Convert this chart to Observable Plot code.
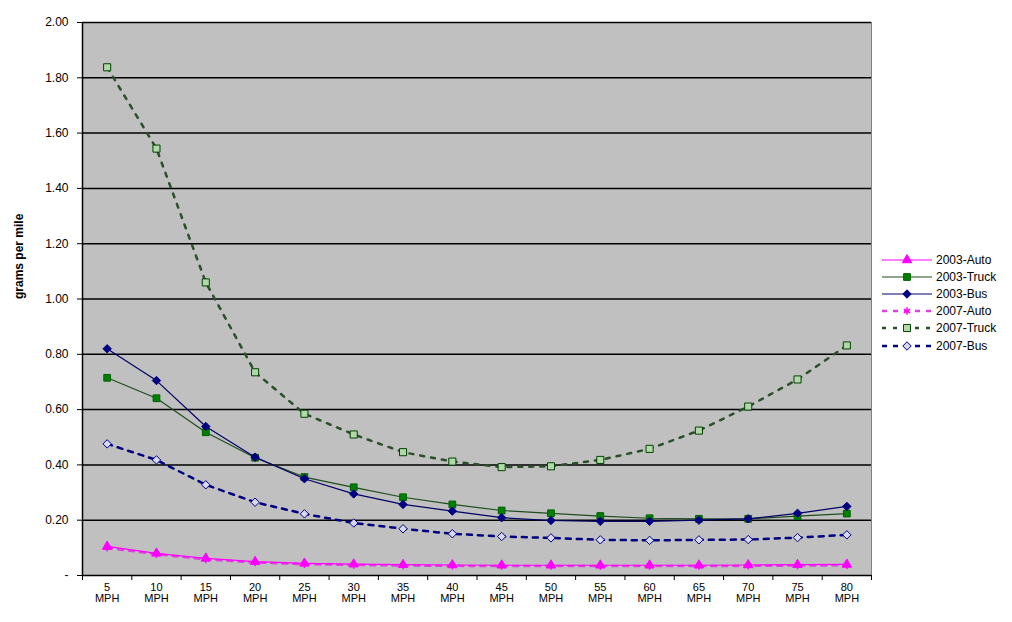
<!DOCTYPE html>
<html><head><meta charset="utf-8">
<script src="https://cdn.jsdelivr.net/npm/d3@7"></script>
<script src="https://cdn.jsdelivr.net/npm/@observablehq/plot@0.6"></script>
<style>
html,body{margin:0;padding:0;background:#fff;overflow:hidden;}
#wrap{position:relative;width:1012px;height:622px;font-family:Arial,"Liberation Sans",sans-serif;}
#legend{position:absolute;left:880px;top:251px;font-size:12px;color:#000;}
.row{display:flex;align-items:center;height:17.2px;white-space:nowrap;}
.row svg{margin-right:2px;}
</style></head><body><div id="wrap"><div id="legend"></div></div>
<script>
const speeds = [5,10,15,20,25,30,35,40,45,50,55,60,65,70,75,80];
const yTicks = [0,0.2,0.4,0.6,0.8,1.0,1.2,1.4,1.6,1.8,2.0];
const seriesNames = ["2003-Auto","2003-Truck","2003-Bus","2007-Auto","2007-Truck","2007-Bus"];
const auto2003  = [0.105,0.080,0.062,0.050,0.044,0.041,0.039,0.038,0.037,0.037,0.037,0.037,0.037,0.038,0.039,0.040];
const truck2003 = [0.715,0.641,0.518,0.426,0.356,0.319,0.283,0.257,0.235,0.225,0.215,0.207,0.205,0.205,0.215,0.224];
const bus2003   = [0.820,0.705,0.539,0.428,0.350,0.295,0.257,0.233,0.209,0.199,0.196,0.196,0.200,0.205,0.225,0.250];
const auto2007  = [0.100,0.077,0.058,0.047,0.041,0.038,0.036,0.035,0.034,0.034,0.034,0.034,0.034,0.035,0.036,0.037];
const truck2007 = [1.838,1.544,1.060,0.735,0.585,0.510,0.446,0.412,0.392,0.395,0.418,0.458,0.524,0.611,0.709,0.832];
const bus2007   = [0.476,0.418,0.328,0.265,0.223,0.190,0.169,0.151,0.141,0.136,0.129,0.127,0.129,0.130,0.137,0.147];

const styles = [
  {values: auto2003,  stroke:"#ff00ff", width:1.2, dash:null,  symbol:"triangle", fill:"#ff00ff", mstroke:"#ff00ff", r:3.5},
  {values: truck2003, stroke:"#1e4d1e", width:1.2, dash:null,  symbol:"square",   fill:"#008000", mstroke:"#006000", r:3.8},
  {values: bus2003,   stroke:"#000066", width:1.2, dash:null,  symbol:"diamond2", fill:"#000080", mstroke:"#000080", r:3.8},
  {values: auto2007,  stroke:"#e040e0", width:2.5, dash:"5,6", symbol:"asterisk", fill:"none",    mstroke:"#ff00ff", r:3.5},
  {values: truck2007, stroke:"#2a502a", width:2.5, dash:"4,7", symbol:"square",   fill:"#b0d8a8", mstroke:"#004000", r:4},
  {values: bus2007,   stroke:"#000080", width:2.5, dash:"5,6", symbol:"diamond2", fill:"#d8d8f4", mstroke:"#000080", r:3.8}
];

const marks = [
  Plot.frame({fill:"#c0c0c0", stroke:"#808080"}),
  Plot.ruleY(yTicks.slice(1), {stroke:"#000", strokeWidth:1.5}),
  Plot.axisY({ticks: yTicks, tickSize:5, tickPadding:9, label:null, fontSize:12,
    tickFormat: d => d === 0 ? "-" : d.toFixed(2)}),
  Plot.axisX({ticks: d3.range(17), tickSize:5, label:null, tickFormat: () => ""}),
  Plot.axisX({ticks: speeds.map((s,k) => k + 0.5), tickSize:0, tickPadding:8, label:null,
    tickFormat: d => `${speeds[Math.floor(d)]}\nMPH`}),
  Plot.ruleX([0], {stroke:"#000", strokeWidth:1.5}),
  Plot.ruleY([0], {stroke:"#000", strokeWidth:1.5}),
  Plot.text(["grams per mile"], {frameAnchor:"left", rotate:-90, dx:-63, fontWeight:"bold", fontSize:12})
];

const order = [4,5,3,0,1,2];
for (const k of order) {
  const s = styles[k];
  const data = s.values.map((v,j) => ({x: j + 0.5, v}));
  marks.push(Plot.line(data, {x:"x", y:"v", stroke:s.stroke, strokeWidth:s.width, strokeDasharray:s.dash || undefined}));
  marks.push(Plot.dot(data, {x:"x", y:"v", symbol:s.symbol, r:s.r, fill:s.fill, stroke:s.mstroke, strokeWidth: s.symbol === "asterisk" ? 1.5 : 1}));
}

const chart = Plot.plot({
  width:1012, height:622,
  marginLeft:82, marginRight:141, marginTop:22, marginBottom:47,
  style:{fontFamily:'Arial,"Liberation Sans",sans-serif', fontSize:"11px", background:"#fff", color:"#000"},
  x:{type:"linear", domain:[0,16], axis:null},
  y:{domain:[0,2], axis:null},
  marks
});
document.getElementById("wrap").prepend(chart);

// legend
const legend = d3.select("#legend");
seriesNames.forEach((name, k) => {
  const s = styles[k];
  const row = legend.append("div").attr("class","row");
  const svg = row.append("svg").attr("width",54).attr("height",14);
  svg.append("line").attr("x1",2).attr("x2",52).attr("y1",7).attr("y2",7)
    .attr("stroke", s.stroke).attr("stroke-width", s.width).attr("stroke-dasharray", s.dash);
  const sym = {triangle:d3.symbolTriangle, square:d3.symbolSquare, diamond2:d3.symbolDiamond2, asterisk:d3.symbolAsterisk}[s.symbol];
  svg.append("path").attr("transform","translate(27,7)")
    .attr("d", d3.symbol(sym, Math.PI * s.r * s.r)())
    .attr("fill", s.fill).attr("stroke", s.mstroke).attr("stroke-width", s.symbol === "asterisk" ? 1.5 : 1);
  row.append("span").text(name);
});
</script>
</body></html>
